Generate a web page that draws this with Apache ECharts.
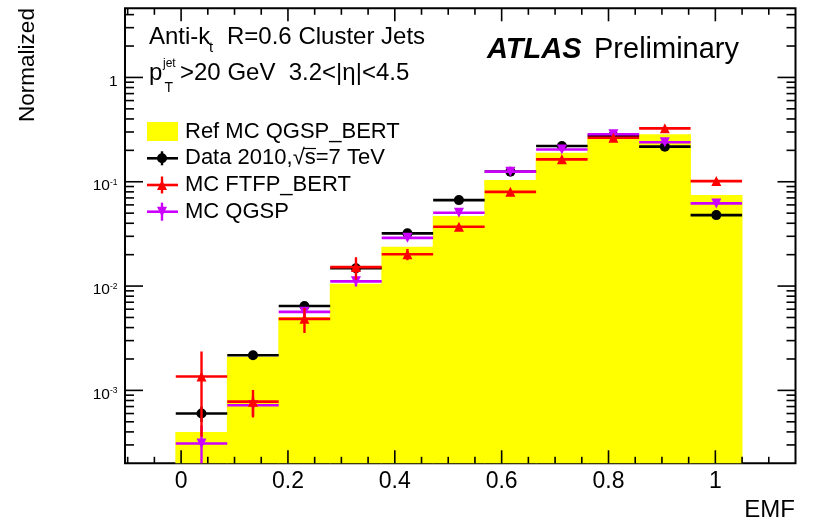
<!DOCTYPE html>
<html>
<head>
<meta charset="utf-8">
<script src="https://cdn.jsdelivr.net/npm/echarts@6/dist/echarts.min.js"></script>
<style>
  html, body { margin: 0; padding: 0; background: #fff; }
  #chart { width: 814px; height: 522px; }
</style>
</head>
<body>
<div id="chart"></div>
<script>
// EMF bin edges (11 bins)
const binEdges = [-0.01, 0.0864, 0.1827, 0.2791, 0.3755, 0.4718, 0.5682, 0.6645, 0.7609, 0.8573, 0.9536, 1.05];

// Reference MC QGSP_BERT (filled histogram)
const refMC = [4.0e-4, 2.1e-3, 5.05e-3, 1.05e-2, 2.38e-2, 4.7e-2, 0.104, 0.19, 0.262, 0.285, 0.0745];

// Data 2010, sqrt(s) = 7 TeV
const data2010 = [6.0e-4, 2.17e-3, 6.45e-3, 1.48e-2, 3.2e-2, 6.67e-2, 0.125, 0.22, 0.277, 0.217, 0.0479];
const data2010Err = [1.0e-4, 1.8e-4, 3.0e-4, 5.0e-4, 8.0e-4, 1.2e-3, 2.0e-3, 3.0e-3, 3.0e-3, 3.0e-3, 2.0e-3];

// MC FTFP_BERT
const ftfp = [1.36e-3, 7.8e-4, 4.85e-3, 1.52e-2, 2.02e-2, 3.7e-2, 0.080, 0.164, 0.264, 0.325, 0.1015];
const ftfpErr = [1.0e-3, 2.3e-4, 1.3e-3, 3.7e-3, 2.5e-3, 2.0e-3, 3.0e-3, 4.0e-3, 5.0e-3, 6.0e-3, 4.0e-3];

// MC QGSP
const qgsp = [3.1e-4, 7.2e-4, 5.66e-3, 1.11e-2, 2.9e-2, 5.04e-2, 0.125, 0.204, 0.285, 0.239, 0.062];
const qgspErr = [1.5e-4, 1.5e-4, 6.0e-4, 1.2e-3, 1.5e-3, 1.5e-3, 2.0e-3, 3.0e-3, 4.0e-3, 4.0e-3, 2.0e-3];

// Axis labels
const xTickLabels = [0, 0.2, 0.4, 0.6, 0.8, 1];
const yTickLabels = [1e-3, 1e-2, 1e-1, 1];

const X_MIN = -0.105, X_MAX = 1.15;
const Y_MIN = 2e-4, Y_MAX = 4.6;
const FONT = '"Liberation Sans", Arial, Helvetica, sans-serif';

const COL_REF = '#ffff00';
const COL_DATA = '#000000';
const COL_FTFP = '#ff0000';
const COL_QGSP = '#cc00ff';

// Tick positions around the frame (ROOT style, on all four sides)
const xTicks = [];
for (let k = -2; k <= 22; k++) {
  const v = Math.round(k * 5) / 100;
  if (v <= X_MIN || v >= X_MAX) continue;
  xTicks.push([v, Y_MIN, (k % 4 === 0 && v >= 0 && v <= 1) ? 1 : 0]);
}
const yTicks = [];
for (let e = -4; e <= 0; e++) {
  for (let m = 1; m <= 9; m++) {
    const v = m * Math.pow(10, e);
    if (v <= Y_MIN || v >= Y_MAX) continue;
    yTicks.push([X_MIN, v, m === 1 ? 1 : 0]);
  }
}

function binCenter(i) { return (binEdges[i] + binEdges[i + 1]) / 2; }

function histData(vals) {
  return vals.map((v, i) => [binEdges[i], binEdges[i + 1], v]);
}
function errData(vals, errs) {
  return vals.map((v, i) => [binCenter(i), v, errs[i], binEdges[i], binEdges[i + 1]]);
}
function markerData(vals) {
  return vals.map((v, i) => [binCenter(i), v]);
}

function errorSeries(name, vals, errs, color, z) {
  return {
    name: name,
    type: 'custom',
    z: z,
    silent: true,
    encode: { x: 0, y: 1 },
    data: errData(vals, errs),
    renderItem: function (params, api) {
      const c = api.value(0), v = api.value(1), e = api.value(2);
      const lo = api.value(3), hi = api.value(4);
      const left = api.coord([lo, v]);
      const right = api.coord([hi, v]);
      const up = api.coord([c, Math.min(v + e, Y_MAX)]);
      const down = api.coord([c, Math.max(v - e, Y_MIN)]);
      return {
        type: 'group',
        children: [
          { type: 'line', shape: { x1: left[0], y1: left[1], x2: right[0], y2: right[1] },
            style: { stroke: color, lineWidth: 2.6 } },
          { type: 'line', shape: { x1: up[0], y1: up[1], x2: down[0], y2: down[1] },
            style: { stroke: color, lineWidth: 2.4 } }
        ]
      };
    }
  };
}

function markerSeries(name, vals, color, symbol, size, rotate, z) {
  return {
    name: name,
    type: 'scatter',
    z: z,
    silent: true,
    symbol: symbol,
    symbolSize: size,
    symbolRotate: rotate,
    itemStyle: { color: color, opacity: 1 },
    emphasis: { disabled: true },
    data: markerData(vals)
  };
}

const chart = echarts.init(document.getElementById('chart'), null, { renderer: 'canvas' });

// Legend rows
const legX = 147, legW = 31, legMid = 162, legTextX = 185;
const rowY = [131.5, 158.3, 185, 211.7];

function triangle(cx, cy, w, h, down) {
  return down
    ? [[cx - w / 2, cy - h / 2], [cx + w / 2, cy - h / 2], [cx, cy + h / 2]]
    : [[cx - w / 2, cy + h / 2], [cx + w / 2, cy + h / 2], [cx, cy - h / 2]];
}

const textStyle = (size, extra) => Object.assign({ fontFamily: FONT, fontSize: size, fill: '#000' }, extra || {});

const graphics = [
  // Axis titles
  { type: 'text', x: 28, y: 65, rotation: Math.PI / 2,
    style: textStyle(22.5, { text: 'Normalized', align: 'center', verticalAlign: 'middle' }) },
  { type: 'text', x: 795, y: 510,
    style: textStyle(24, { text: 'EMF', align: 'right', verticalAlign: 'middle' }) },

  // Jet selection
  { type: 'text', x: 149, y: 37, style: textStyle(24, { text: 'Anti-k', verticalAlign: 'middle' }) },
  { type: 'text', x: 209, y: 48, style: textStyle(15, { text: 't', verticalAlign: 'middle' }) },
  { type: 'text', x: 227, y: 37, style: textStyle(24, { text: 'R=0.6 Cluster Jets', verticalAlign: 'middle' }) },
  { type: 'text', x: 149, y: 73, style: textStyle(24, { text: 'p', verticalAlign: 'middle' }) },
  { type: 'text', x: 163, y: 64, style: textStyle(12, { text: 'jet', verticalAlign: 'middle' }) },
  { type: 'text', x: 164.5, y: 88, style: textStyle(14, { text: 'T', verticalAlign: 'middle' }) },
  { type: 'text', x: 180, y: 73, style: textStyle(24, { text: '>20 GeV  3.2<|\u03b7|<4.5', verticalAlign: 'middle' }) },

  // Experiment label
  { type: 'text', x: 487, y: 50,
    style: textStyle(29, { text: 'ATLAS', fontWeight: 'bold', fontStyle: 'italic', verticalAlign: 'middle' }) },
  { type: 'text', x: 594, y: 50,
    style: textStyle(29, { text: 'Preliminary', verticalAlign: 'middle' }) },

  // Legend: reference histogram
  { type: 'rect', shape: { x: legX, y: rowY[0] - 9.5, width: legW, height: 19 }, style: { fill: COL_REF } },
  { type: 'text', x: legTextX, y: rowY[0], style: textStyle(22, { text: 'Ref MC QGSP_BERT', verticalAlign: 'middle' }) },

  // Legend: data
  { type: 'line', shape: { x1: legX, y1: rowY[1], x2: legX + legW, y2: rowY[1] }, style: { stroke: COL_DATA, lineWidth: 2.6 } },
  { type: 'line', shape: { x1: legMid, y1: rowY[1] - 7, x2: legMid, y2: rowY[1] + 7 }, style: { stroke: COL_DATA, lineWidth: 2.4 } },
  { type: 'circle', shape: { cx: legMid, cy: rowY[1], r: 5 }, style: { fill: COL_DATA } },
  { type: 'text', x: legTextX, y: rowY[1], style: textStyle(22, { text: 'Data 2010,\u221as=7 TeV', verticalAlign: 'middle' }) },
  // bar of the square root over "s"
  { type: 'line', shape: { x1: 304, y1: 148.5, x2: 316, y2: 148.5 }, style: { stroke: '#000', lineWidth: 1.2 } },

  // Legend: FTFP_BERT
  { type: 'line', shape: { x1: legX, y1: rowY[2], x2: legX + legW, y2: rowY[2] }, style: { stroke: COL_FTFP, lineWidth: 2.6 } },
  { type: 'line', shape: { x1: legMid, y1: rowY[2] - 8.5, x2: legMid, y2: rowY[2] + 8.5 }, style: { stroke: COL_FTFP, lineWidth: 2.4 } },
  { type: 'polygon', shape: { points: triangle(legMid, rowY[2], 10, 10, false) }, style: { fill: COL_FTFP } },
  { type: 'text', x: legTextX, y: rowY[2], style: textStyle(22, { text: 'MC FTFP_BERT', verticalAlign: 'middle' }) },

  // Legend: QGSP
  { type: 'line', shape: { x1: legX, y1: rowY[3], x2: legX + legW, y2: rowY[3] }, style: { stroke: COL_QGSP, lineWidth: 2.6 } },
  { type: 'line', shape: { x1: legMid, y1: rowY[3] - 9, x2: legMid, y2: rowY[3] + 9 }, style: { stroke: COL_QGSP, lineWidth: 2.4 } },
  { type: 'polygon', shape: { points: triangle(legMid, rowY[3], 10, 10, true) }, style: { fill: COL_QGSP } },
  { type: 'text', x: legTextX, y: rowY[3], style: textStyle(22, { text: 'MC QGSP', verticalAlign: 'middle' }) }
];

function matchTick(list, v, log) {
  return list.some(t => log ? Math.abs(Math.log10(t) - Math.log10(v)) < 1e-6 : Math.abs(t - v) < 1e-6);
}

const option = {
  animation: false,
  backgroundColor: '#ffffff',
  grid: {
    left: 125, top: 8.3, width: 670.5, height: 455,
    show: true, borderColor: '#000', borderWidth: 2, backgroundColor: 'transparent',
    containLabel: false, outerBoundsMode: 'none'
  },
  xAxis: {
    type: 'value',
    min: X_MIN, max: X_MAX,
    splitNumber: 6, minInterval: 0.2, maxInterval: 0.2,
    axisLine: { show: false },
    axisTick: { show: false },
    splitLine: { show: false },
    axisLabel: {
      show: true, margin: 7, color: '#000', fontSize: 23, fontFamily: FONT,
      showMinLabel: false, showMaxLabel: false,
      formatter: v => matchTick(xTickLabels, v, false) ? String(Math.round(v * 10) / 10) : ''
    }
  },
  yAxis: {
    type: 'log', logBase: 10,
    min: Y_MIN, max: Y_MAX,
    axisLine: { show: false },
    axisTick: { show: false },
    splitLine: { show: false },
    axisLabel: {
      show: true, margin: 7.5, color: '#000', fontFamily: FONT,
      showMinLabel: false, showMaxLabel: false,
      padding: [8, 0, 0, 0],
      formatter: v => {
        if (!matchTick(yTickLabels, v, true)) return '';
        const e = Math.round(Math.log10(v));
        return e === 0 ? '{b|1}' : '{b|10}{s|' + e + '}';
      },
      rich: {
        b: { fontSize: 15.5, lineHeight: 16, verticalAlign: 'bottom', fontFamily: FONT, color: '#000' },
        s: { fontSize: 8.5, lineHeight: 8, verticalAlign: 'top', fontFamily: FONT, color: '#000' }
      }
    }
  },
  series: [
    {
      name: 'Ref MC QGSP_BERT',
      type: 'custom',
      z: 1,
      silent: true,
      encode: { x: [0, 1], y: 2 },
      data: histData(refMC),
      renderItem: function (params, api) {
        const p1 = api.coord([api.value(0), api.value(2)]);
        const p2 = api.coord([api.value(1), Y_MIN]);
        // slight overlap between neighbouring bins avoids hairline seams
        return {
          type: 'rect',
          shape: { x: p1[0] - 0.4, y: p1[1], width: p2[0] - p1[0] + 0.8, height: p2[1] - p1[1] },
          style: { fill: COL_REF }
        };
      }
    },
    errorSeries('Data 2010', data2010, data2010Err, COL_DATA, 3),
    markerSeries('Data 2010', data2010, COL_DATA, 'circle', 10, 0, 4),
    errorSeries('MC QGSP', qgsp, qgspErr, COL_QGSP, 5),
    markerSeries('MC QGSP', qgsp, COL_QGSP, 'triangle', 10, 180, 6),
    errorSeries('MC FTFP_BERT', ftfp, ftfpErr, COL_FTFP, 7),
    markerSeries('MC FTFP_BERT', ftfp, COL_FTFP, 'triangle', 10, 0, 8),
    {
      name: 'x ticks',
      type: 'custom',
      z: 10,
      silent: true,
      encode: { x: 0, y: 1 },
      data: xTicks,
      renderItem: function (params, api) {
        const v = api.value(0);
        const len = api.value(2) ? 13 : 6.5;
        const b = api.coord([v, Y_MIN]);
        const t = api.coord([v, Y_MAX]);
        return {
          type: 'group',
          children: [
            { type: 'line', shape: { x1: b[0], y1: b[1], x2: b[0], y2: b[1] - len }, style: { stroke: '#000', lineWidth: 1.6 } },
            { type: 'line', shape: { x1: t[0], y1: t[1], x2: t[0], y2: t[1] + len }, style: { stroke: '#000', lineWidth: 1.6 } }
          ]
        };
      }
    },
    {
      name: 'y ticks',
      type: 'custom',
      z: 10,
      silent: true,
      encode: { x: 0, y: 1 },
      data: yTicks,
      renderItem: function (params, api) {
        const v = api.value(1);
        const len = api.value(2) ? 18 : 9;
        const l = api.coord([X_MIN, v]);
        const r = api.coord([X_MAX, v]);
        return {
          type: 'group',
          children: [
            { type: 'line', shape: { x1: l[0], y1: l[1], x2: l[0] + len, y2: l[1] }, style: { stroke: '#000', lineWidth: 1.6 } },
            { type: 'line', shape: { x1: r[0], y1: r[1], x2: r[0] - len, y2: r[1] }, style: { stroke: '#000', lineWidth: 1.6 } }
          ]
        };
      }
    }
  ],
  graphic: graphics
};

chart.setOption(option);
</script>
</body>
</html>
